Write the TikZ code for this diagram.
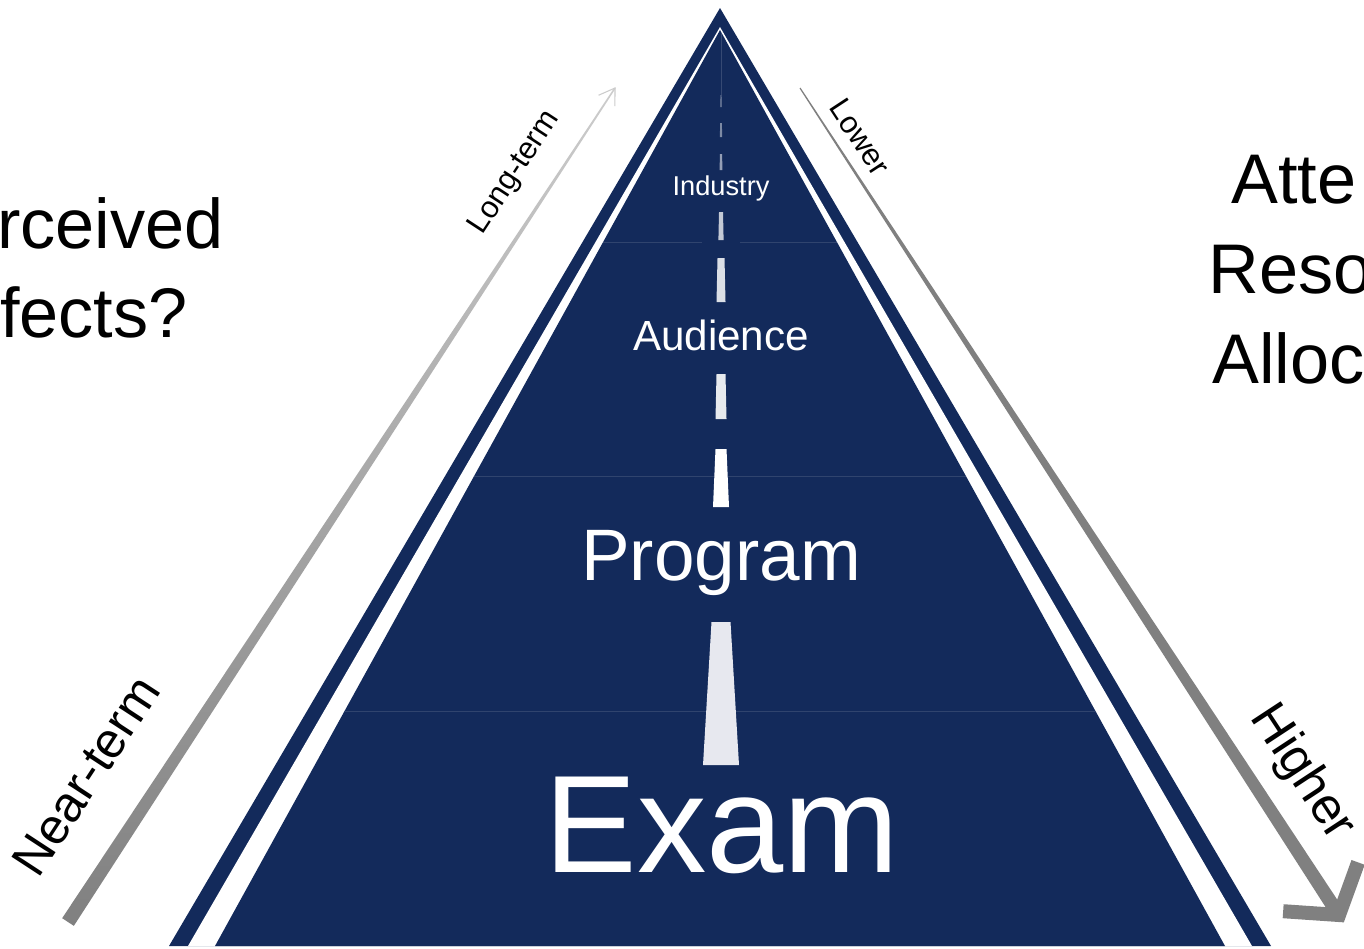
\documentclass[tikz,border=0pt]{standalone}
\usepackage{fontspec}
\setmainfont{Liberation Sans}
\usetikzlibrary{calc}
\definecolor{navy}{RGB}{19,42,91}
\definecolor{bandline}{RGB}{48,68,110}
\definecolor{dashgray}{RGB}{231,232,239}
\definecolor{arrgray}{RGB}{128,128,128}

\begin{document}
\begin{tikzpicture}[x=0.02cm,y=-0.02cm,
	level/.style={text=white,inner sep=0pt,anchor=base},
	side/.style={font=\fontsize{40}{48}\selectfont,inner sep=0pt},
	axislabel/.style={inner sep=0pt}]
		\useasboundingbox (0,0) rectangle (1364,948);
		\clip (0,0) rectangle (1364,948);
		\fill[white] (0,0) rectangle (1364,948);
		% pyramid
		\fill[navy] (720,8) -- (169,946) -- (1271,946) -- cycle;
		\fill[white] (720,27) -- (188,946) -- (1252,946) -- cycle;
		\fill[navy] (720,30) -- (215,946) -- (1225,946) -- cycle;
		\draw[bandline,line width=0.5pt] (603,242) -- (702,242);
		\draw[bandline,line width=0.5pt] (740,242) -- (837,242);
		\foreach \y in {476,711}
			\draw[bandline,line width=0.5pt] ({720-0.551*(\y-30)},\y) -- ({720+0.551*(\y-30)},\y);
		% road marks
		\draw[white,opacity=0.15,line width=0.5pt] (721,32) -- (721,95);
		\foreach \t/\b/\p/\q/\o in {95/107/0.7/0.9/0.3,123/137/0.9/1.1/0.45,154/170/1.1/1.4/0.55,212/240/2/2.6/0.75,258/302/3.5/4.5/0.85,374/419/4.5/5.5/0.9,449/507/5.5/8/1}
			\fill[white,opacity=\o] ({721-\p},\t) -- ({721+\p},\t) -- ({721+\q},\b) -- ({721-\q},\b) -- cycle;
		\fill[dashgray] (711.5,622) -- (730.5,622) -- (739,765) -- (703,765) -- cycle;
		% levels
		\node[level,font=\fontsize{15.5}{18}\selectfont] (industry) at (721,195) {Industry};
		\node[level,font=\fontsize{24}{28}\selectfont] (audience) at (721,350) {Audience};
		\node[level,font=\fontsize{41.5}{48}\selectfont] (program) at (721,580) {Program};
		\node[level,font=\fontsize{79}{90}\selectfont] (exam) at (722,872) {Exam};
		% side texts
		\node[side,anchor=base east] (perc1) at (224,248) {rceived};
		\node[side,anchor=base east] (perc2) at (188,337) {fects?};
		\node[side,anchor=base west] (att1) at (1231,203) {Atte};
		\node[side,anchor=base west] (att2) at (1208,293) {Reso};
		\node[side,anchor=base west] (att3) at (1212,383) {Alloc};
		% left arrow
		\coordinate (nearTail) at (68,922);
		\coordinate (longTip) at (615,88);
		\shade[top color=arrgray!40,middle color=arrgray!92,bottom color=arrgray] ($(nearTail)!0.14cm!90:(longTip)$) -- ($(longTip)!0.015cm!-90:(nearTail)$) -- ($(longTip)!0.015cm!90:(nearTail)$) -- ($(nearTail)!0.14cm!-90:(longTip)$) -- cycle;
		\draw[arrgray!40,line width=0.6pt] ($(longTip)!0.36cm!33:(nearTail)$) -- (longTip) -- ($(longTip)!0.36cm!-33:(nearTail)$);
		% right arrow
		\coordinate (lowTail) at (800,88);
		\coordinate (highTip) at (1339,915);
		\fill[arrgray] ($(lowTail)!0.012cm!90:(highTip)$) -- ($(highTip)!0.14cm!-90:(lowTail)$) -- ($(highTip)!0.14cm!90:(lowTail)$) -- ($(lowTail)!0.012cm!-90:(highTip)$) -- cycle;
		\draw[arrgray,line width=0.28cm,line join=miter] ($(highTip)!1.12cm!53:(lowTail)$) -- (highTip) -- ($(highTip)!1.12cm!-53:(lowTail)$);
		% arrow labels
		\node[axislabel,rotate=56.8,font=\fontsize{28.5}{34}\selectfont] (near) at (86,776) {Near-term};
		\node[axislabel,rotate=56.8,font=\fontsize{17.5}{21}\selectfont] (long) at (515,173) {Long-term};
		\node[axislabel,rotate=-56.7,font=\fontsize{17.5}{21}\selectfont] (lower) at (860,137) {Lower};
		\node[axislabel,rotate=-56.7,font=\fontsize{29}{34}\selectfont] (higher) at (1302,773) {Higher};
\end{tikzpicture}
\end{document}
